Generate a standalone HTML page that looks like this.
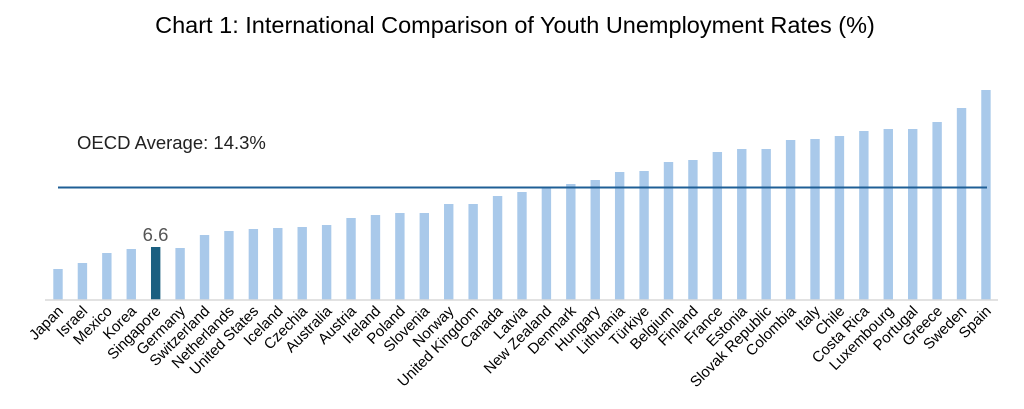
<!DOCTYPE html>
<html><head><meta charset="utf-8"><style>
html,body{margin:0;padding:0;background:#fff;}
svg{display:block;font-family:"Liberation Sans",sans-serif;}
</style></head><body>
<svg width="1024" height="409" viewBox="0 0 1024 409">
<text x="515" y="33" text-anchor="middle" font-size="23.5" fill="#000">Chart 1: International Comparison of Youth Unemployment Rates (%)</text>
<text x="77" y="149" font-size="18.5" fill="#222">OECD Average: 14.3%</text>
<g id="bars"></g>
<line x1="45" y1="300" x2="998" y2="300" stroke="#d9d9d9" stroke-width="1.5"/>
<line x1="58" y1="187.5" x2="987" y2="187.5" stroke="#1f5f96" stroke-width="2"/>
<text x="155.5" y="241" text-anchor="middle" font-size="18.5" fill="#555">6.6</text>
<g id="labels" font-size="15" fill="#000"></g>
</svg>
<script>
var names=["Japan","Israel","Mexico","Korea","Singapore","Germany","Switzerland","Netherlands","United States","Iceland","Czechia","Australia","Austria","Ireland","Poland","Slovenia","Norway","United Kingdom","Canada","Latvia","New Zealand","Denmark","Hungary","Lithuania","Türkiye","Belgium","Finland","France","Estonia","Slovak Republic","Colombia","Italy","Chile","Costa Rica","Luxembourg","Portugal","Greece","Sweden","Spain"];
var tops=[269,263,253,249,247,248,235,231,229,228,227,225,218,215,213,213,204,204,196,192,187,184,180,172,171,162,160,152,149,149,140,139,136,131,129,129,122,108,90];
var ns="http://www.w3.org/2000/svg",b=document.getElementById("bars"),l=document.getElementById("labels");
for(var i=0;i<names.length;i++){
 var cx=58+i*24.42;
 var r=document.createElementNS(ns,"rect");
 r.setAttribute("x",cx-4.7);r.setAttribute("y",tops[i]);r.setAttribute("width",9.4);r.setAttribute("height",300-tops[i]);
 r.setAttribute("fill",i==4?"#1a5f80":"#a9c9ea");b.appendChild(r);
 var t=document.createElementNS(ns,"text");
 t.setAttribute("text-anchor","end");
 t.setAttribute("transform","translate("+(cx+6)+",312) rotate(-45)");
 t.textContent=names[i];l.appendChild(t);
}
</script>
</body></html>
